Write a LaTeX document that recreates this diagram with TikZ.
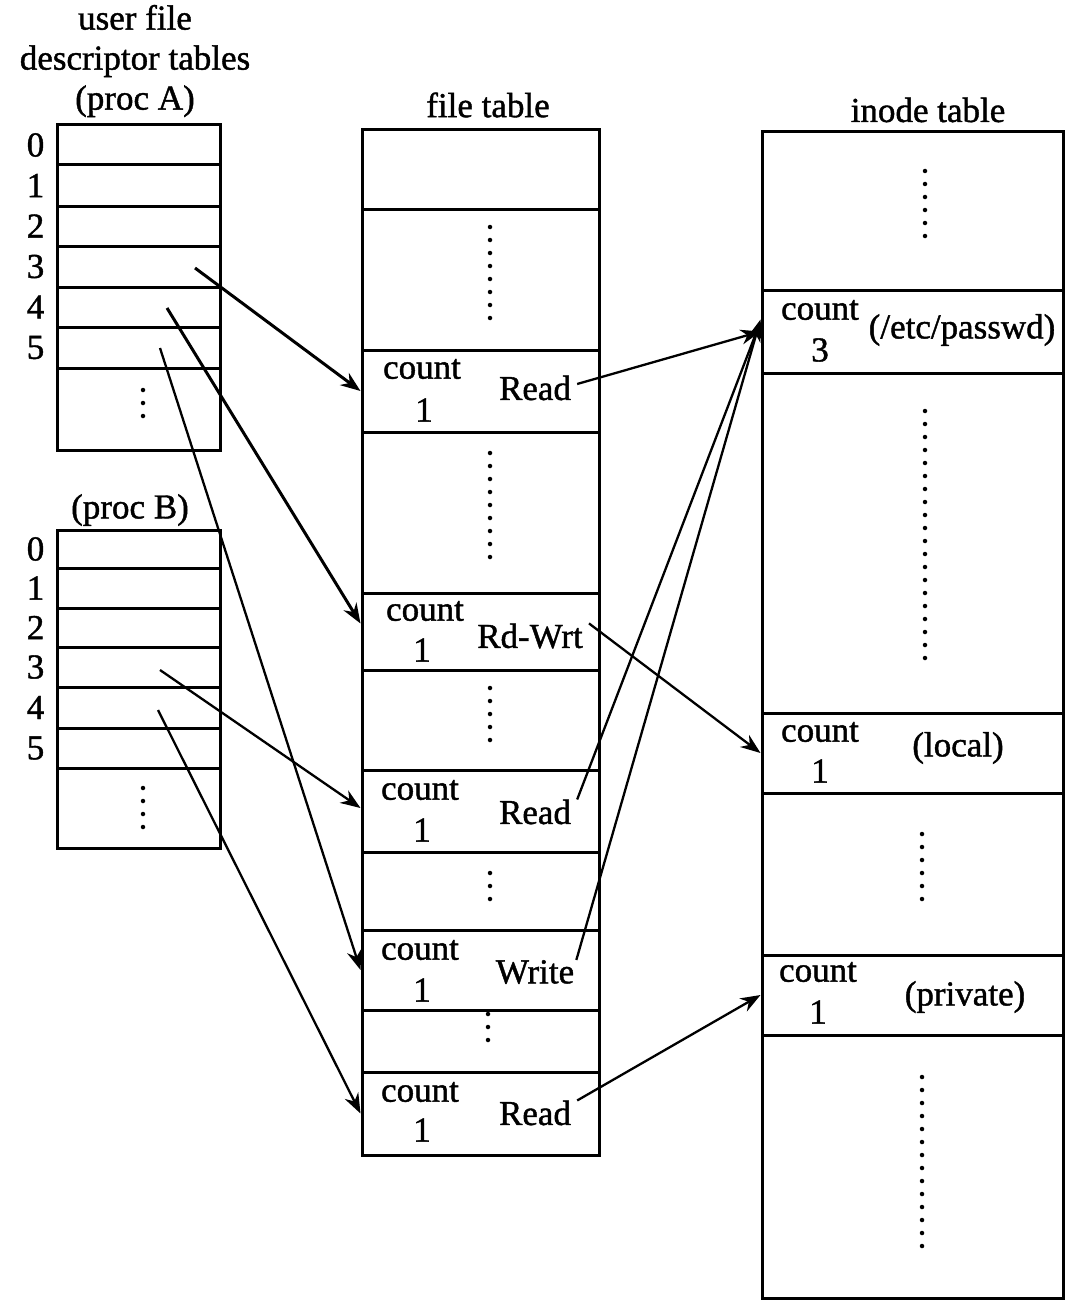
\documentclass[tikz,border=0pt]{standalone}
\usepackage{fontspec}
\setmainfont{Liberation Serif}
\newfontfamily\scanfont{Liberation Serif}[FakeBold=1.2]
\usetikzlibrary{positioning, arrows.meta}
\begin{document}
\begin{tikzpicture}[
    x=1pt, y=-1pt,
    cell/.style={rectangle, draw, line width=3pt, minimum width=163pt, inner sep=0pt},
    ftrow/.style={rectangle, draw, line width=3pt, minimum width=237pt, inner sep=0pt},
    inrow/.style={rectangle, draw, line width=3pt, minimum width=301pt, inner sep=0pt},
    txt/.style={font=\scanfont\fontsize{35}{40}\selectfont, inner sep=0pt},
    dots/.style={line width=4.5pt, line cap=round, dash pattern=on 0pt off 13pt},
    ptr/.style={-{Stealth[length=20pt, width=15pt]}, line width=2.3pt}
]
    \useasboundingbox (0,0) rectangle (1068,1300);

    % proc A
    \node[txt, align=center] (hdrA) at (135,61) {user file\\descriptor tables\\(proc A)};
    \node[cell, minimum height=40pt] (a0) at (138.5,145) {};
    \node[cell, minimum height=41pt] (a1) at (138.5,185.5) {};
    \node[cell, minimum height=40pt] (a2) at (138.5,226) {};
    \node[cell, minimum height=41pt] (a3) at (138.5,266.5) {};
    \node[cell, minimum height=40pt] (a4) at (138.5,307) {};
    \node[cell, minimum height=41pt] (a5) at (138.5,347.5) {};
    \node[cell, minimum height=82pt] (a6) at (138.5,409) {};
    \node[txt, left=11pt of a0] (na0) {0};
    \node[txt, left=11pt of a1] (na1) {1};
    \node[txt, left=11pt of a2] (na2) {2};
    \node[txt, left=11pt of a3] (na3) {3};
    \node[txt, left=11pt of a4] (na4) {4};
    \node[txt, left=11pt of a5] (na5) {5};
    \draw[dots] (143,390) -- (143,429);

    % proc B
    \node[txt] (hdrB) at (130,510) {(proc B)};
    \node[cell, minimum height=38pt] (b0) at (138.5,549) {};
    \node[cell, minimum height=40pt] (b1) at (138.5,588) {};
    \node[cell, minimum height=39pt] (b2) at (138.5,627.5) {};
    \node[cell, minimum height=40pt] (b3) at (138.5,667) {};
    \node[cell, minimum height=41pt] (b4) at (138.5,707.5) {};
    \node[cell, minimum height=40pt] (b5) at (138.5,748) {};
    \node[cell, minimum height=80pt] (b6) at (138.5,808) {};
    \node[txt, left=11pt of b0] (nb0) {0};
    \node[txt, left=11pt of b1] (nb1) {1};
    \node[txt, left=11pt of b2] (nb2) {2};
    \node[txt, left=11pt of b3] (nb3) {3};
    \node[txt, left=11pt of b4] (nb4) {4};
    \node[txt, left=11pt of b5] (nb5) {5};
    \draw[dots] (143,788) -- (143,827);

    % file table
    \node[txt] (hdrF) at (488,105) {file table};
    \node[ftrow, minimum height=79pt] (ftA) at (480.5,169.5) {};
    \node[ftrow, minimum height=141pt] (ftB) at (480.5,279.5) {};
    \node[ftrow, minimum height=82pt] (fr1) at (480.5,391) {};
    \node[ftrow, minimum height=161pt] (ftC) at (480.5,512.5) {};
    \node[ftrow, minimum height=77pt] (fr2) at (480.5,631.5) {};
    \node[ftrow, minimum height=100pt] (ftD) at (480.5,720) {};
    \node[ftrow, minimum height=82pt] (fr3) at (480.5,811) {};
    \node[ftrow, minimum height=78pt] (ftE) at (480.5,891) {};
    \node[ftrow, minimum height=80pt] (fr4) at (480.5,970) {};
    \node[ftrow, minimum height=62pt] (ftF) at (480.5,1041) {};
    \node[ftrow, minimum height=83pt] (fr5) at (480.5,1113.5) {};
    \draw[dots] (490,227) -- (490,331);
    \draw[dots] (490,453) -- (490,570);
    \draw[dots] (490,688) -- (490,753);
    \draw[dots] (490,873) -- (490,912);
    \draw[dots] (488,1014) -- (488,1053);

    \node[txt] (fc1) at (422,369) {count};
    \node[txt] (fn1) at (424,410) {1};
    \node[txt] (fm1) at (535,388) {Read};
    \node[txt] (fc2) at (425,611) {count};
    \node[txt] (fn2) at (422,650) {1};
    \node[txt] (fm2) at (530,636) {Rd-Wrt};
    \node[txt] (fc3) at (420,790) {count};
    \node[txt] (fn3) at (422,830) {1};
    \node[txt] (fm3) at (535,812) {Read};
    \node[txt] (fc4) at (420,950) {count};
    \node[txt] (fn4) at (422,990) {1};
    \node[txt] (fm4) at (535,972) {Write};
    \node[txt] (fc5) at (420,1092) {count};
    \node[txt] (fn5) at (422,1130) {1};
    \node[txt] (fm5) at (535,1113) {Read};

    % inode table
    \node[txt] (hdrI) at (928,110) {inode table};
    \node[inrow, minimum height=158pt] (itA) at (912.5,211) {};
    \node[inrow, minimum height=83pt] (ir1) at (912.5,331.5) {};
    \node[inrow, minimum height=340pt] (itB) at (912.5,543) {};
    \node[inrow, minimum height=80pt] (ir2) at (912.5,753) {};
    \node[inrow, minimum height=162pt] (itC) at (912.5,874) {};
    \node[inrow, minimum height=80pt] (ir3) at (912.5,995) {};
    \node[inrow, minimum height=263pt] (itD) at (912.5,1166.5) {};
    \draw[dots] (925,171) -- (925,249);
    \draw[dots] (925,411) -- (925,671);
    \draw[dots] (922,834) -- (922,912);
    \draw[dots] (922,1077) -- (922,1259);

    \node[txt] (ic1) at (820,310) {count};
    \node[txt] (in1) at (820,350) {3};
    \node[txt] (im1) at (962,330) {(/etc/passwd)};
    \node[txt] (ic2) at (820,732) {count};
    \node[txt] (in2) at (820,771) {1};
    \node[txt] (im2) at (958,748) {(local)};
    \node[txt] (ic3) at (818,972) {count};
    \node[txt] (in3) at (818,1012) {1};
    \node[txt] (im3) at (965,997) {(private)};

    % pointers from the descriptor tables
    \coordinate (pa3) at (195,268);
    \coordinate (pa4) at (167,308);
    \coordinate (pa5) at (160,348);
    \coordinate (pb3) at (160,670);
    \coordinate (pb4) at (158,710);
    \draw[ptr, line width=3pt] (pa3) -- (fr1.west);
    \draw[ptr, line width=3pt] (pa4) -- ([yshift=8pt]fr2.west);
    \draw[ptr] (pa5) -- (fr4.west);
    \draw[ptr] (pb3) -- ([yshift=3pt]fr3.west);
    \draw[ptr] (pb4) -- (fr5.west);

    % pointers into the inode table
    \draw[ptr] ([xshift=6pt, yshift=4pt]fm1.east) -- (ir1.west);
    \draw[ptr] ([xshift=6pt]fm2.north east) -- (ir2.west);
    \draw[ptr] ([xshift=6pt]fm3.north east) -- ([yshift=10pt]ir1.west);
    \draw[ptr] ([xshift=2pt]fm4.north east) -- ([yshift=12pt]ir1.west);
    \draw[ptr] ([xshift=6pt]fm5.north east) -- (ir3.west);
\end{tikzpicture}
\end{document}
